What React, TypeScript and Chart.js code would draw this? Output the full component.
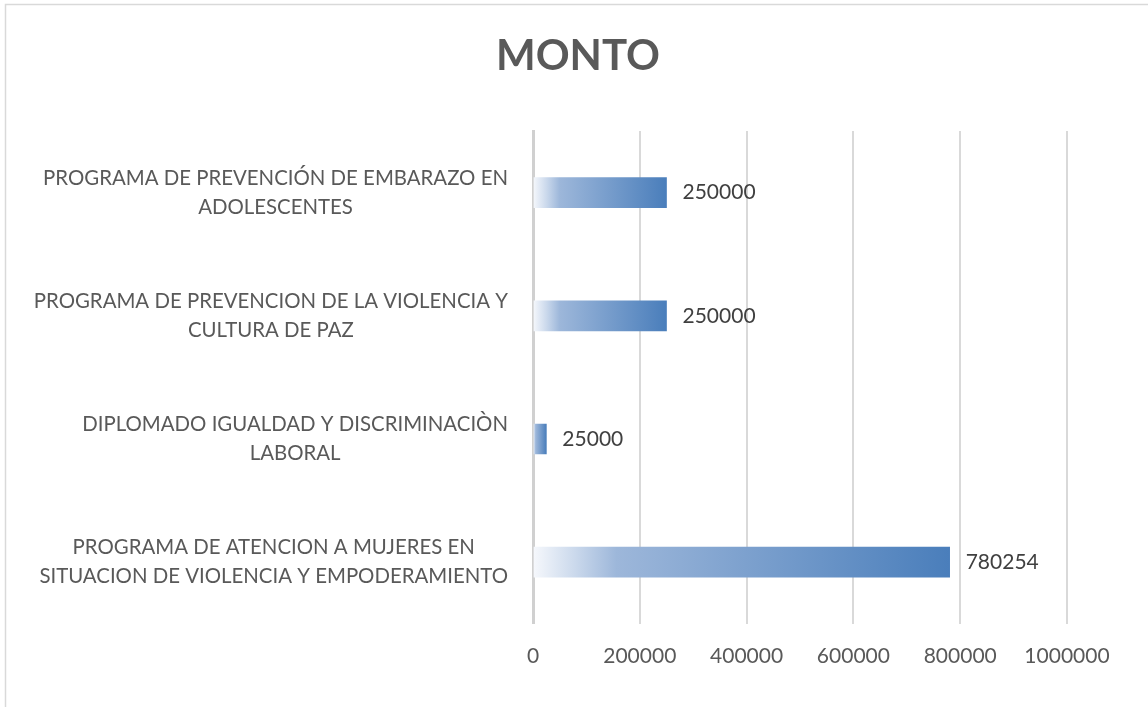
import React, { useEffect, useRef } from "react";
import { Chart, registerables } from "chart.js";

Chart.register(...registerables);

const categories: string[][] = [
  ["PROGRAMA DE PREVENCIÓN DE EMBARAZO EN", "ADOLESCENTES"],
  ["PROGRAMA DE PREVENCION DE LA VIOLENCIA Y", "CULTURA DE PAZ"],
  ["DIPLOMADO IGUALDAD Y DISCRIMINACIÒN", "LABORAL"],
  ["PROGRAMA DE ATENCION A MUJERES EN", "SITUACION DE VIOLENCIA Y EMPODERAMIENTO"],
];
const montos: number[] = [250000, 250000, 25000, 780254];
const axisMax = 1000000;
const axisStep = 200000;
const title = "MONTO";

const FONT = "Lato, 'Open Sans', sans-serif";

export default function App() {
  const ref = useRef<HTMLCanvasElement | null>(null);
  useEffect(() => {
    if (!ref.current) return;
    const frame = {
      id: "frame",
      beforeDraw(chart: any) {
        const c = chart.ctx;
        c.save();
        c.fillStyle = "#ffffff";
        c.fillRect(0, 0, chart.width, chart.height);
        c.strokeStyle = "#d9d9d9";
        c.lineWidth = 1.5;
        c.strokeRect(5.5, 4.5, chart.width + 20, chart.height + 20);
        c.font = `bold 42px ${FONT}`;
        c.fillStyle = "#595959";
        c.textAlign = "center";
        c.textBaseline = "middle";
        c.fillText(title, 578, 56);
        c.restore();
      },
    };
    const labels = {
      id: "labels",
      afterDraw(chart: any) {
        const c = chart.ctx;
        const y = chart.scales.y;
        c.save();
        c.font = `20.4px ${FONT}`;
        c.fillStyle = "#595959";
        c.textBaseline = "middle";
        c.textAlign = "center";
        const right = 508;
        const lh = 29;
        categories.forEach((lines, i) => {
          const py = y.getPixelForTick(i);
          const w = Math.max(...lines.map((l) => c.measureText(l).width));
          const cx = right - w / 2;
          const y0 = py - ((lines.length - 1) * lh) / 2;
          lines.forEach((l, j) => c.fillText(l, cx, y0 + j * lh));
        });
        const meta = chart.getDatasetMeta(0);
        c.font = `21px ${FONT}`;
        c.fillStyle = "#404040";
        c.textAlign = "left";
        meta.data.forEach((el: any, i: number) => {
          c.fillText(String(montos[i]), el.x + 16, el.y);
        });
        c.restore();
      },
    };
    const chart = new Chart(ref.current, {
      type: "bar",
      data: {
        labels: categories.map((l) => l.join(" ")),
        datasets: [
          {
            data: montos,
            barThickness: 30,
            backgroundColor: (ctx: any) => {
              const ch = ctx.chart;
              const xs = ch.scales && ch.scales.x;
              if (!xs || ctx.raw == null) return "#4a7ebb";
              const x0 = xs.getPixelForValue(0);
              const x1 = xs.getPixelForValue(ctx.raw);
              if (!isFinite(x0) || !isFinite(x1) || x1 - x0 < 1) return "#4a7ebb";
              const g = ch.ctx.createLinearGradient(x0, 0, x1, 0);
              g.addColorStop(0, "#f6f8fc");
              g.addColorStop(0.1, "#cbd9ec");
              g.addColorStop(0.2, "#9db7da");
              g.addColorStop(1, "#4a7ebb");
              return g;
            },
            borderWidth: 0,
          },
        ],
      },
      options: {
        indexAxis: "y",
        animation: false,
        responsive: false,
        layout: { padding: { left: 533, right: 81, top: 131, bottom: 18 } },
        plugins: {
          legend: { display: false },
          tooltip: { enabled: false },
          title: { display: false },
        },
        scales: {
          x: {
            min: 0,
            max: axisMax,
            ticks: {
              stepSize: axisStep,
              color: "#595959",
              font: { family: FONT, size: 21 },
              padding: 20,
              callback: (v: any) => String(v),
            },
            grid: { color: "#d9d9d9", lineWidth: 2, drawTicks: false },
            border: { display: false },
          },
          y: {
            ticks: { display: false },
            grid: { display: false, drawTicks: false },
            border: { display: true, color: "#d0d0d0", width: 3 },
            afterFit: (s: any) => {
              s.width = 0;
            },
          },
        },
      } as any,
      plugins: [frame, labels],
    });
    return () => chart.destroy();
  }, []);
  return (
    <div style={{ position: "absolute", left: 0, top: 0, width: 1148, height: 707 }}>
      <canvas ref={ref} width={1148} height={707} />
    </div>
  );
}
